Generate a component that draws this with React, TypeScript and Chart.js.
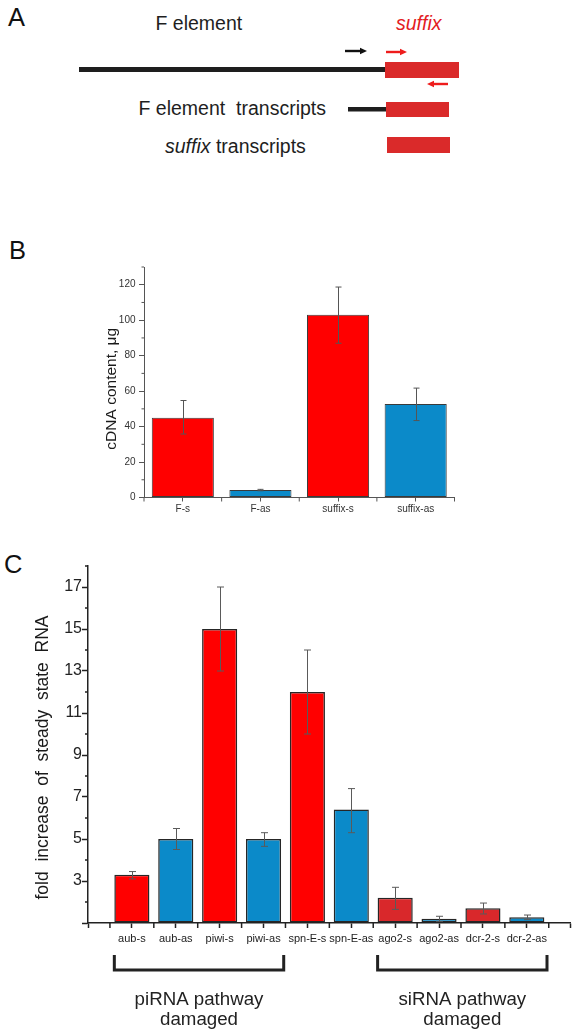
import React, { useEffect, useRef } from 'react';
import { Chart, registerables } from 'chart.js';

Chart.register(...registerables);

const FONT = '"Liberation Sans", Arial, Helvetica, sans-serif';
const RED = '#ff0000';
const DARK_RED = '#d9282b';
const BLUE = '#0b8ac9';
const SHAPE_RED = '#da2a2a';
const INK = '#1e1e1e';

// ---------- Panel B data ----------
const bCategories = ['F-s', 'F-as', 'suffix-s', 'suffix-as'];
const bValues = [45, 4.2, 103, 52.8];
const bErrLow = [35.8, 3.8, 87, 43.4];
const bErrHigh = [54.7, 4.6, 118.7, 61.7];
const bYTicks = [0, 20, 40, 60, 80, 100, 120];
const bYMinorTicks = [10, 30, 50, 70, 90, 110, 130];
const bYTitle = 'cDNA content, \u03bcg';
const bBarColors = [RED, BLUE, RED, BLUE];

// ---------- Panel C data ----------
const cCategories = ['aub-s', 'aub-as', 'piwi-s', 'piwi-as', 'spn-E-s', 'spn-E-as', 'ago2-s', 'ago2-as', 'dcr-2-s', 'dcr-2-as'];
const cValues = [3.3, 5.0, 15.0, 5.0, 12.0, 6.4, 2.2, 1.2, 1.7, 1.27];
const cErrLow = [3.1, 4.5, 13.0, 4.65, 10.0, 5.3, 1.65, 1.08, 1.43, 1.16];
const cErrHigh = [3.45, 5.5, 17.0, 5.3, 14.0, 7.4, 2.7, 1.32, 1.95, 1.38];
const cYTicks = [1, 3, 5, 7, 9, 11, 13, 15, 17];
const cYMinorTicks = [2, 4, 6, 8, 10, 12, 14, 16, 18];
const cYTitle = 'fold  increase  of  steady  state  RNA';
const cBarColors = [RED, BLUE, RED, BLUE, RED, BLUE, DARK_RED, BLUE, DARK_RED, BLUE];
const cGroups = [
  { lines: ['piRNA pathway', 'damaged'], first: 'aub-s', last: 'piwi-as' },
  { lines: ['siRNA pathway', 'damaged'], first: 'ago2-s', last: 'dcr-2-as' },
];

const cAxisLabels = ['', ...cCategories, ''];
const cAxisValues = [null, ...cValues, null];

const decorPlugin = {
  id: 'decor',
  afterDatasetsDraw(chart: any, _args: any, opts: any) {
    if (!opts || !opts.err) return;
    const { ctx } = chart;
    const ys = chart.scales.y;
    const e = opts.err;
    const meta = chart.getDatasetMeta(0);
    ctx.save();
    ctx.strokeStyle = e.color;
    ctx.lineWidth = e.width;
    e.low.forEach((lo: number, i: number) => {
      const bar = meta.data[i + e.offset];
      if (!bar) return;
      const x = Math.round(bar.x) + 0.5;
      const y1 = ys.getPixelForValue(lo);
      const y2 = ys.getPixelForValue(e.high[i]);
      ctx.beginPath();
      ctx.moveTo(x, y1);
      ctx.lineTo(x, y2);
      ctx.moveTo(x - e.cap, y1);
      ctx.lineTo(x + e.cap, y1);
      ctx.moveTo(x - e.cap, y2);
      ctx.lineTo(x + e.cap, y2);
      ctx.stroke();
    });
    ctx.restore();
  },
  afterDraw(chart: any, _args: any, opts: any) {
    if (!opts) return;
    const { ctx, chartArea: ca } = chart;
    const xs = chart.scales.x;
    const ys = chart.scales.y;
    ctx.save();
    ctx.strokeStyle = opts.tickColor;
    ctx.lineWidth = opts.tickWidth;
    if (opts.yMinor) {
      ctx.beginPath();
      opts.yMinor.values.forEach((v: number) => {
        const y = ys.getPixelForValue(v);
        ctx.moveTo(ca.left - opts.yMinor.len, y);
        ctx.lineTo(ca.left, y);
      });
      ctx.stroke();
    }
    if (opts.xMinor) {
      ctx.beginPath();
      opts.xMinor.values.forEach((v: number) => {
        const x = xs.getPixelForValue(v);
        ctx.moveTo(x, ca.bottom);
        ctx.lineTo(x, ca.bottom + opts.xMinor.len);
      });
      ctx.stroke();
    }
    if (opts.yTitle) {
      const t = opts.yTitle;
      ctx.save();
      ctx.translate(ca.left + t.dx, (ca.top + ca.bottom) / 2 + t.dy);
      ctx.rotate(-Math.PI / 2);
      ctx.font = t.font;
      ctx.fillStyle = t.color;
      ctx.textAlign = 'center';
      ctx.textBaseline = 'middle';
      ctx.fillText(t.text, 0, 0);
      ctx.restore();
    }
    if (opts.groups) {
      const g = opts.groups;
      g.items.forEach((item: any) => {
        const i1 = xs.getLabels().indexOf(item.first);
        const i2 = xs.getLabels().indexOf(item.last);
        const x1 = xs.getPixelForValue(i1 - 0.4);
        const x2 = xs.getPixelForValue(i2 + 0.46);
        const top = ca.bottom + g.top;
        const hy = ca.bottom + g.line;
        ctx.save();
        ctx.strokeStyle = g.color;
        ctx.lineWidth = g.width;
        ctx.lineJoin = 'miter';
        ctx.lineCap = 'butt';
        ctx.beginPath();
        ctx.moveTo(x1, top);
        ctx.lineTo(x1, hy);
        ctx.lineTo(x2, hy);
        ctx.lineTo(x2, top);
        ctx.stroke();
        ctx.fillStyle = g.color;
        ctx.font = g.font;
        ctx.textAlign = 'center';
        ctx.textBaseline = 'alphabetic';
        item.lines.forEach((line: string, k: number) => {
          ctx.fillText(line, (x1 + x2) / 2, ca.bottom + g.text[k]);
        });
        ctx.restore();
      });
    }
    ctx.restore();
  },
};

function makeB(canvas: HTMLCanvasElement) {
  return new Chart(canvas, {
    type: 'bar',
    data: {
      labels: bCategories,
      datasets: [
        {
          data: bValues,
          backgroundColor: bBarColors,
          borderColor: '#3a3a3a',
          borderWidth: 1,
          borderSkipped: false,
          barPercentage: 0.8,
          categoryPercentage: 1,
        },
      ],
    },
    options: {
      responsive: false,
      maintainAspectRatio: false,
      animation: false,
      devicePixelRatio: 1,
      layout: { padding: { left: 0, top: 17, right: 25.5, bottom: 12.5 } },
      plugins: {
        legend: { display: false },
        tooltip: { enabled: false },
        decor: {
          tickColor: '#555',
          tickWidth: 1,
          err: { low: bErrLow, high: bErrHigh, color: '#555', width: 1, cap: 3, offset: 0 },
          yMinor: { values: bYMinorTicks, len: 2.5 },
          xMinor: { values: bCategories.map((_, i) => i - 0.5).concat([bCategories.length - 0.5]), len: 4 },
          yTitle: { text: bYTitle, dx: -32, dy: 6.5, font: `15.5px ${FONT}`, color: '#1a1a1a' },
        },
      } as any,
      scales: {
        x: {
          type: 'category',
          offset: true,
          grid: { offset: false, drawOnChartArea: false, drawTicks: true, tickLength: 4, tickColor: '#555', tickWidth: 1 },
          border: { display: true, color: '#555', width: 1 },
          ticks: { font: { family: FONT, size: 10 }, color: '#333', padding: 2, autoSkip: false, maxRotation: 0, minRotation: 0 },
          afterFit: (s: any) => { s.height = 25; },
        },
        y: {
          type: 'linear',
          min: 0,
          max: 130,
          afterBuildTicks: (s: any) => { s.ticks = bYTicks.map((v) => ({ value: v })); },
          grid: { drawOnChartArea: false, drawTicks: true, tickLength: 5, tickColor: '#555', tickWidth: 1 },
          border: { display: true, color: '#555', width: 1 },
          ticks: { font: { family: FONT, size: 10 }, color: '#333', padding: 3.5 },
          afterFit: (s: any) => { s.width = 84; },
        },
      },
    } as any,
    plugins: [decorPlugin as any],
  });
}

function makeC(canvas: HTMLCanvasElement) {
  return new Chart(canvas, {
    type: 'bar',
    data: {
      labels: cAxisLabels,
      datasets: [
        {
          data: cAxisValues as any,
          backgroundColor: ['#fff', ...cBarColors, '#fff'],
          borderColor: '#262626',
          borderWidth: 1.5,
          borderSkipped: false,
          barPercentage: 0.8,
          categoryPercentage: 1,
          base: 1,
        } as any,
      ],
    },
    options: {
      responsive: false,
      maintainAspectRatio: false,
      animation: false,
      devicePixelRatio: 1,
      layout: { padding: { left: 0, top: 21, right: 6.3, bottom: 83 } },
      plugins: {
        legend: { display: false },
        tooltip: { enabled: false },
        decor: {
          tickColor: '#222',
          tickWidth: 1.5,
          err: { low: cErrLow, high: cErrHigh, color: '#5a5a5a', width: 1, cap: 3.5, offset: 1 },
          yMinor: { values: cYMinorTicks, len: 3 },
          xMinor: { values: cCategories.map((_, i) => i + 0.5).concat([cCategories.length + 0.5]), len: 5 },
          yTitle: { text: cYTitle, dx: -45, dy: 13, font: `17.5px ${FONT}`, color: '#1a1a1a' },
          groups: {
            items: cGroups,
            top: 32,
            line: 47,
            width: 3,
            color: '#222',
            font: `18.7px ${FONT}`,
            text: [81.5, 101.5],
          },
        },
      } as any,
      scales: {
        x: {
          type: 'category',
          offset: false,
          grid: { offset: false, drawOnChartArea: false, drawTicks: true, tickLength: 5, tickColor: '#222', tickWidth: 1.5 },
          border: { display: true, color: '#222', width: 1.5 },
          ticks: { font: { family: FONT, size: 11 }, color: '#222', padding: 4, autoSkip: false, maxRotation: 0, minRotation: 0 },
          afterFit: (s: any) => { s.height = 30; },
        },
        y: {
          type: 'linear',
          min: 1,
          max: 18,
          afterBuildTicks: (s: any) => { s.ticks = cYTicks.map((v) => ({ value: v })); },
          grid: { drawOnChartArea: false, drawTicks: true, tickLength: 6, tickColor: '#222', tickWidth: 1.5 },
          border: { display: true, color: '#222', width: 1.5 },
          ticks: {
            font: { family: FONT, size: 16 },
            color: '#222',
            padding: 0,
            callback: (v: any) => (v === cYTicks[0] ? '' : String(v)),
          },
          afterFit: (s: any) => { s.width = 88; },
        },
      },
    } as any,
    plugins: [decorPlugin as any],
  });
}

function Arrow({ x1, x2, y, color, dir }: { x1: number; x2: number; y: number; color: string; dir: 'left' | 'right' }) {
  const head = 7;
  if (dir === 'right') {
    return (
      <g fill={color}>
        <rect x={x1} y={y - 1.2} width={x2 - x1 - head + 1} height={2.4} />
        <polygon points={`${x2 - head},${y - 3.2} ${x2},${y} ${x2 - head},${y + 3.2}`} />
      </g>
    );
  }
  return (
    <g fill={color}>
      <rect x={x1 + head - 1} y={y - 1.2} width={x2 - x1 - head + 1} height={2.4} />
      <polygon points={`${x1 + head},${y - 3.2} ${x1},${y} ${x1 + head},${y + 3.2}`} />
    </g>
  );
}

const textBase: React.CSSProperties = {
  position: 'absolute',
  fontSize: 19.5,
  lineHeight: 1,
  whiteSpace: 'pre',
  color: INK,
};

const panelLabel: React.CSSProperties = {
  position: 'absolute',
  fontSize: 25.5,
  lineHeight: 1,
  color: '#111',
};

export default function App() {
  const bRef = useRef<HTMLCanvasElement>(null);
  const cRef = useRef<HTMLCanvasElement>(null);

  useEffect(() => {
    const b = makeB(bRef.current as HTMLCanvasElement);
    const c = makeC(cRef.current as HTMLCanvasElement);
    return () => {
      b.destroy();
      c.destroy();
    };
  }, []);

  return (
    <div
      style={{
        position: 'absolute',
        left: 0,
        top: 0,
        width: 577,
        height: 1036,
        background: '#fff',
        overflow: 'hidden',
        fontFamily: FONT,
      }}
    >
      {/* Panel A */}
      <div style={{ ...panelLabel, left: 8, top: 5.2 }}>A</div>
      <div style={{ ...textBase, left: 155.5, top: 14.2 }}>F element</div>
      <div style={{ ...textBase, left: 396, top: 14.2, color: '#e3201f', fontStyle: 'italic' }}>suffix</div>
      <div style={{ ...textBase, left: 138.5, top: 98.5 }}>F element  transcripts</div>
      <div style={{ ...textBase, left: 165, top: 136.8 }}>
        <i>suffix</i> transcripts
      </div>
      <svg style={{ position: 'absolute', left: 0, top: 0 }} width={577} height={170}>
        <rect x={79} y={67} width={306} height={5} fill={INK} />
        <rect x={385} y={62} width={74} height={16} fill={SHAPE_RED} />
        <Arrow x1={345} x2={367} y={51} color="#111" dir="right" />
        <Arrow x1={386} x2={407} y={52} color="#ee1c1c" dir="right" />
        <Arrow x1={427} x2={448} y={84} color="#ee1c1c" dir="left" />
        <rect x={348} y={107} width={38} height={4.5} fill={INK} />
        <rect x={386} y={102} width={63} height={15} fill={SHAPE_RED} />
        <rect x={387} y={137} width={63} height={16} fill={SHAPE_RED} />
      </svg>

      {/* Panel B */}
      <div style={{ ...panelLabel, left: 9, top: 238.4 }}>B</div>
      <div style={{ position: 'absolute', left: 60, top: 250, width: 420, height: 285 }}>
        <canvas ref={bRef} width={420} height={285} style={{ display: 'block' }} />
      </div>

      {/* Panel C */}
      <div style={{ ...panelLabel, left: 4, top: 551.5 }}>C</div>
      <div style={{ position: 'absolute', left: 0, top: 545, width: 577, height: 491 }}>
        <canvas ref={cRef} width={577} height={491} style={{ display: 'block' }} />
      </div>
    </div>
  );
}
